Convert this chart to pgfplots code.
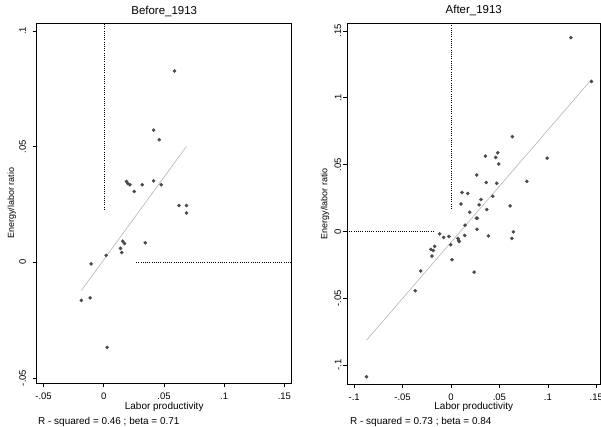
\documentclass[border=0pt]{standalone}
\usepackage{fontspec}
\setmainfont{Liberation Sans}
\usepackage{pgfplots}
\pgfplotsset{compat=1.18}
\definecolor{markgray}{HTML}{4A4A4A}
\definecolor{fitgray}{HTML}{B4B4B4}
\pgfplotsset{
  stataplot/.style={
    scale only axis,
    axis line style={black, line width=0.9bp},
    tick align=outside,
    major tick length=4bp,
    tick style={black, line width=0.6bp},
    xtick pos=bottom, ytick pos=left,
    tick label style={font=\fontsize{9.5}{10}\selectfont, inner sep=0pt},
    xticklabel style={anchor=base},
    xticklabel shift=12.6bp,
    yticklabel style={rotate=90, anchor=south},
    xlabel={Labor productivity},
    ylabel={Energy/labor ratio},
    xlabel style={font=\fontsize{10}{12}\selectfont, anchor=base, inner sep=0pt},
    ylabel style={font=\fontsize{9}{11}\selectfont, anchor=center, inner sep=0pt},
    title style={font=\fontsize{11.5}{13}\selectfont, anchor=base, inner sep=0pt, at={(axis description cs:0.5,1.0092)}},
    clip=true,
  },
  dots/.style={only marks, mark=*, mark size=1.6bp, color=markgray},
  fit/.style={no marks, color=fitgray, line width=0.6bp},
  refl/.style={no marks, black, line width=0.5bp, dash pattern=on 0.6bp off 1.6bp},
}
\begin{document}
\begin{tikzpicture}
\useasboundingbox (0,0) rectangle (601bp,427bp);
% ---------- Before 1913 ----------
\begin{axis}[stataplot,
  at={(36.7bp,44bp)}, anchor=south west,
  width=255bp, height=359.7bp,
  xmin=-0.0557, xmax=0.1561, ymin=-0.0522, ymax=0.1033,
  xtick={-0.05,0,0.05,0.1,0.15}, xticklabels={-.05,0,.05,.1,.15},
  ytick={-0.05,0,0.05,0.1}, yticklabels={-.05,0,.05,.1},
  yticklabel shift=6.6bp,
  xlabel style={at={(axis description cs:0.5,-0.0740)}},
  ylabel style={at={(axis description cs:-0.098,0.5)}},
  title={Before\_1913},
]
\addplot[refl] coordinates {(0,0.1030) (0,0.0226)};
\addplot[refl] coordinates {(0.027,0) (0.1561,0)};
\addplot[fit] coordinates {(-0.0186,-0.0122) (0.0687,0.0501)};
\addplot[dots] coordinates {
(0.0587,0.0827) (0.0414,0.0571) (0.0461,0.0530) (0.0189,0.0349)
(0.0200,0.0340) (0.0217,0.0335) (0.0253,0.0306) (0.0320,0.0335)
(0.0414,0.0352) (0.0478,0.0335) (0.0625,0.0245) (0.0687,0.0245)
(0.0687,0.0213) (0.0158,0.0091) (0.0172,0.0081) (0.0139,0.0060)
(0.0150,0.0042) (0.0345,0.0084) (0.0020,0.0030) (-0.0105,-0.0007)
(-0.0113,-0.0154) (-0.0186,-0.0165) (0.0028,-0.0368)
};
\end{axis}
% ---------- After 1913 ----------
\begin{axis}[stataplot,
  at={(347bp,43bp)}, anchor=south west,
  width=253.5bp, height=360.7bp,
  xmin=-0.1074, xmax=0.1544, ymin=-0.1141, ymax=0.1557,
  xtick={-0.1,-0.05,0,0.05,0.1,0.15}, xticklabels={-.1,-.05,0,.05,.1,.15},
  ytick={-0.1,-0.05,0,0.05,0.1,0.15}, yticklabels={-.1,-.05,0,.05,.1,.15},
  yticklabel shift=1.5bp,
  xlabel style={at={(axis description cs:0.5,-0.0710)}},
  ylabel style={at={(axis description cs:-0.0868,0.5)}},
  title={After\_1913},
]
\addplot[refl] coordinates {(0,0.1557) (0,0.0174)};
\addplot[refl] coordinates {(-0.1074,0) (-0.0166,0)};
\addplot[fit] coordinates {(-0.0872,-0.0813) (0.1451,0.1137)};
\addplot[dots] coordinates {
(0.1238,0.1450) (0.1451,0.1122) (0.0634,0.0709) (0.0993,0.0549)
(0.0355,0.0564) (0.0462,0.0554) (0.0483,0.0589) (0.0493,0.0504)
(0.0266,0.0422) (0.0365,0.0366) (0.0472,0.0360) (0.0783,0.0375)
(0.0114,0.0291) (0.0172,0.0284) (0.0310,0.0239) (0.0431,0.0263)
(0.0103,0.0206) (0.0290,0.0199) (0.0610,0.0191) (0.0369,0.0164)
(0.0193,0.0144) (0.0262,0.0099) (0.0272,0.0099) (0.0145,0.0047)
(0.0269,0.0017) (0.0645,-0.0003) (-0.0117,-0.0018) (-0.0021,-0.0037)
(-0.0076,-0.0045) (0.0141,-0.0030) (0.0386,-0.0033) (0.0628,-0.0052)
(0.0072,-0.0052) (0.0079,-0.0067) (0.0086,-0.0075) (-0.0003,-0.0100)
(-0.0169,-0.0112) (-0.0207,-0.0134) (-0.0183,-0.0142) (-0.0197,-0.0184)
(0.0010,-0.0212) (0.0238,-0.0304) (-0.0313,-0.0296) (-0.0369,-0.0443)
(-0.0872,-0.1087)
};
\end{axis}
\node[anchor=base west, inner sep=0pt, font=\fontsize{10}{12}\selectfont] at (38bp,2.5bp) {R - squared = 0.46 ; beta = 0.71};
\node[anchor=base west, inner sep=0pt, font=\fontsize{10}{12}\selectfont] at (350bp,2.5bp) {R - squared = 0.73 ; beta = 0.84};
\end{tikzpicture}
\end{document}
